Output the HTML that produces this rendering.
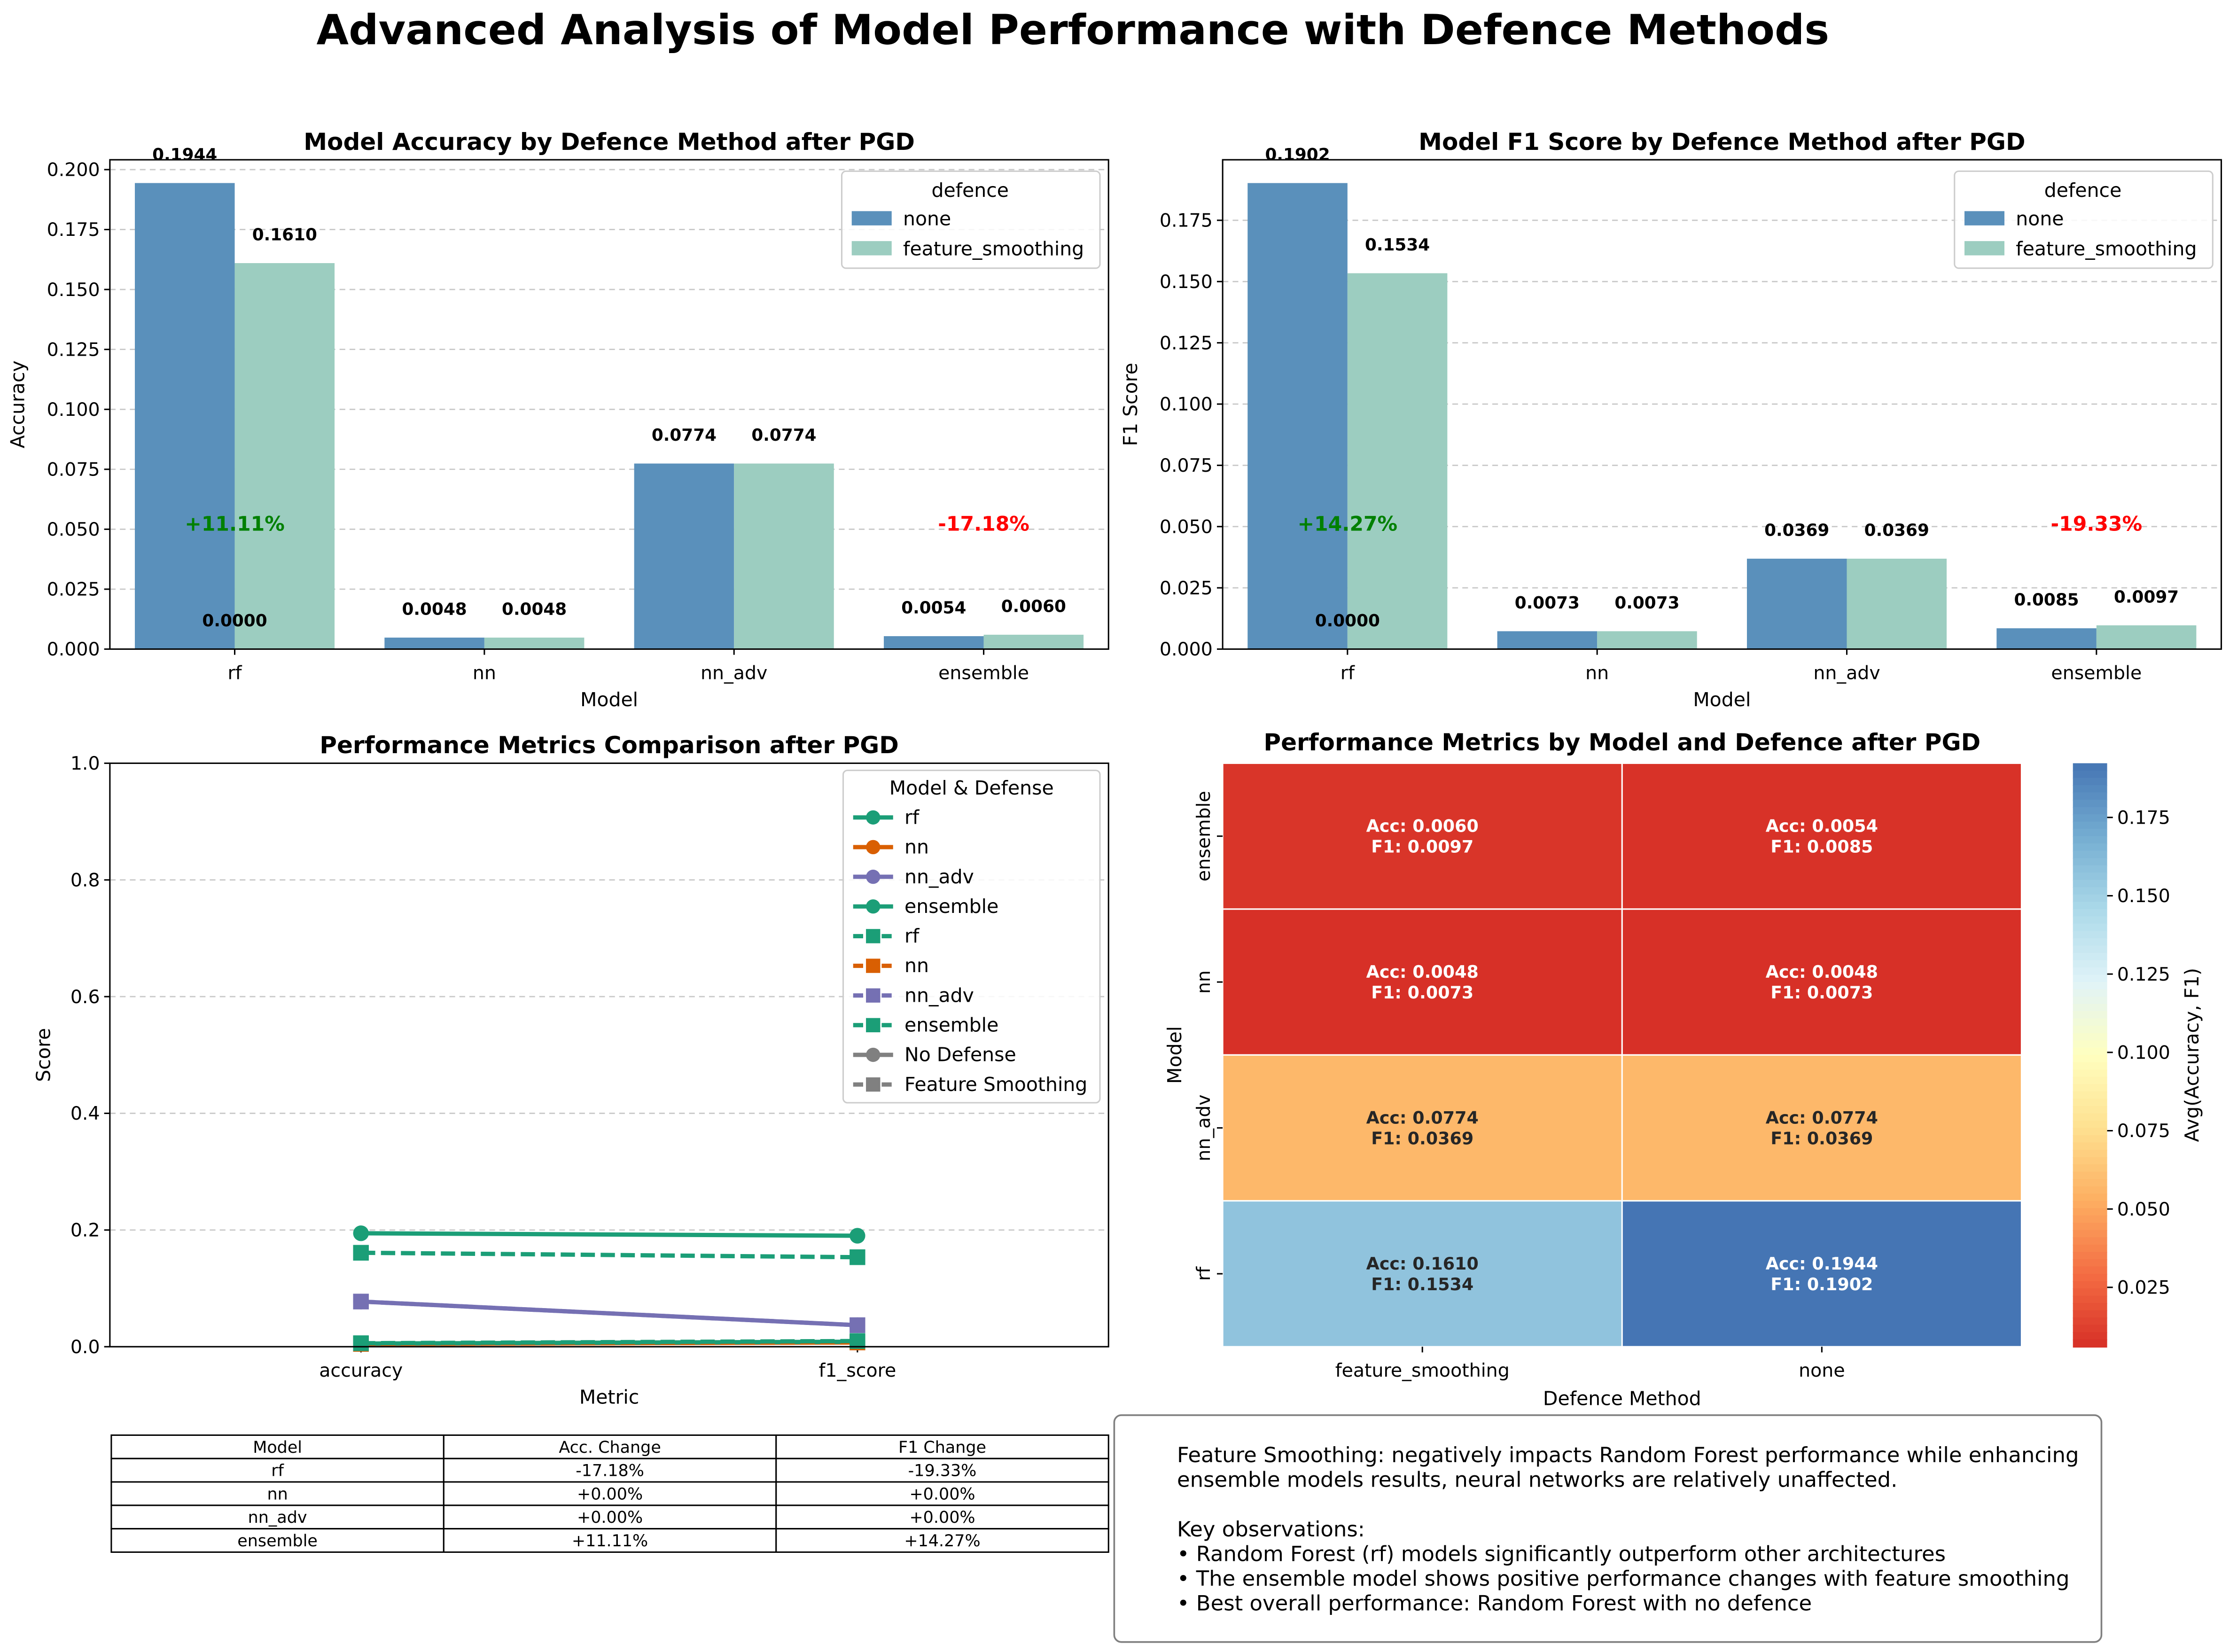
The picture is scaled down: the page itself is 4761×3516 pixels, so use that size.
<!DOCTYPE html>
<html><head><meta charset="utf-8"><style>
html,body{margin:0;padding:0;background:#fff;}
svg{display:block;font-family:"DejaVu Sans","Liberation Sans",sans-serif;}
</style></head><body>
<svg id="fig" width="4761" height="3516" viewBox="0 0 1568 1158" xmlns="http://www.w3.org/2000/svg">
<rect width="1568" height="1158" fill="#fff"/>
<text x="752" y="31" text-anchor="middle" font-size="29.2" font-weight="bold">Advanced Analysis of Model Performance with Defence Methods</text>
</svg>
<script>
const models=["rf","nn","nn_adv","ensemble"];
const accNone=[0.1944,0.0048,0.0774,0.0054];
const accFS=[0.1610,0.0048,0.0774,0.0060];
const f1None=[0.1902,0.0073,0.0369,0.0085];
const f1FS=[0.1534,0.0073,0.0369,0.0097];
const accTicks=[0,0.025,0.05,0.075,0.1,0.125,0.15,0.175,0.2];
const f1Ticks=[0,0.025,0.05,0.075,0.1,0.125,0.15,0.175];
const scoreTicks=[0,0.2,0.4,0.6,0.8,1.0];
const metrics=["accuracy","f1_score"];
const accChange=["-17.18%","+0.00%","+0.00%","+11.11%"];
const f1Change=["-19.33%","+0.00%","+0.00%","+14.27%"];
const cbTicks=[0.025,0.05,0.075,0.1,0.125,0.15,0.175];
const NS="http://www.w3.org/2000/svg";
const svg=document.getElementById('fig');
function mk(tag,a,parent,txt){const e=document.createElementNS(NS,tag);for(const k in a)e.setAttribute(k,a[k]);if(txt!==undefined)e.textContent=txt;(parent||svg).appendChild(e);return e;}
const cNone="#5a90bb",cFS="#9ccdc0";
const TF=13, LF=13.5, TT=16.5, LG=13.5;

function barChart(x0,x1,yTop,yBot,vmax,ticks,none,fs,title,ylab,ann){
  const g=mk('g',{});
  
  
  const ys=v=>yBot-(v/vmax)*(yBot-yTop);
  const band=(x1-x0)/4;
  const xc=i=>x0+band*(i+0.5);
  ticks.forEach(t=>{
    if(t>0){const gl=mk('line',{x1:x0,x2:x1,y1:ys(t),y2:ys(t),stroke:'#c8c8c8','stroke-dasharray':'4,3','stroke-width':0.9},g);
    
    }
    mk('line',{x1:x0-4,x2:x0,y1:ys(t),y2:ys(t),stroke:'#000'},g);
    const tl=mk('text',{x:x0-7,y:ys(t)+4.5,'text-anchor':'end','font-size':TF},g,t.toFixed(3));
    
    
  });
  const bw=band*0.4;
  models.forEach((m,i)=>{
    [[none[i],cNone,-1],[fs[i],cFS,0]].forEach(([v,c,off],k)=>{
      const bx=xc(i)+off*bw;
      const b=mk('rect',{x:bx,y:ys(v),width:bw,height:yBot-ys(v),fill:c},g);
      
      
      const vl=mk('text',{x:bx+bw/2,y:ys(v)-16,'text-anchor':'middle','font-size':11.8,'font-weight':'bold'},g,v.toFixed(4));
      
      
    });
    mk('line',{x1:xc(i),x2:xc(i),y1:yBot,y2:yBot+4,stroke:'#000'},g);
    const xl=mk('text',{x:xc(i),y:yBot+21,'text-anchor':'middle','font-size':TF},g,m);
    
    
  });
  const z=mk('text',{x:xc(0),y:yBot-16,'text-anchor':'middle','font-size':11.8,'font-weight':'bold'},g,'0.0000');
  
  
  const a1=mk('text',{x:xc(0),y:yBot-83,'text-anchor':'middle','font-size':14,'font-weight':'bold',fill:'green'},g,ann[0]);
  
  
  const a2=mk('text',{x:xc(3),y:yBot-83,'text-anchor':'middle','font-size':14,'font-weight':'bold',fill:'red'},g,ann[1]);
  
  
  const fr=mk('rect',{x:x0,y:yTop,width:x1-x0,height:yBot-yTop,fill:'none',stroke:'#000','stroke-width':1},g);
  
  
  const t=mk('text',{x:(x0+x1)/2,y:yTop-7,'text-anchor':'middle','font-size':TT,'font-weight':'bold'},g,title);
  
  
  const xt=mk('text',{x:(x0+x1)/2,y:yBot+40,'text-anchor':'middle','font-size':LF},g,'Model');
  
  
  const yt=mk('text',{x:0,y:0,'text-anchor':'middle','font-size':LF,transform:`translate(${x0-60},${(yTop+yBot)/2}) rotate(-90)`},g,ylab);
  
  
  const lx=x1-187,ly=yTop+8;
  const lb=mk('rect',{x:lx,y:ly,width:181,height:68,rx:3,fill:'#fff','fill-opacity':0.85,stroke:'#ccc'},g);
  
  
  mk('text',{x:lx+90,y:ly+18,'text-anchor':'middle','font-size':LG},g,'defence');
  [['none',cNone],['feature_smoothing',cFS]].forEach(([n,c],k)=>{
    const sw=mk('rect',{x:lx+7,y:ly+28+k*21,width:28,height:10,fill:c},g);
    
    
    const lt=mk('text',{x:lx+43,y:ly+38+k*21,'font-size':LG},g,n);
    
    
  });
}
barChart(77,777,112,455,0.2041,accTicks,accNone,accFS,'Model Accuracy by Defence Method after PGD','Accuracy',['+11.11%','-17.18%']);
barChart(857,1557,112,455,0.1997,f1Ticks,f1None,f1FS,'Model F1 Score by Defence Method after PGD','F1 Score',['+14.27%','-19.33%']);

(function(){
  const x0=77,x1=777,yTop=535,yBot=944;
  const ys=v=>yBot-v*(yBot-yTop);
  const xs=[253,601];
  const g=mk('g',{});
  
  
  scoreTicks.forEach(t=>{
    if(t>0&&t<1){const gl=mk('line',{x1:x0,x2:x1,y1:ys(t),y2:ys(t),stroke:'#c8c8c8','stroke-dasharray':'4,3','stroke-width':0.9},g);
    
    }
    mk('line',{x1:x0-4,x2:x0,y1:ys(t),y2:ys(t),stroke:'#000'},g);
    const tl=mk('text',{x:x0-7,y:ys(t)+4.5,'text-anchor':'end','font-size':TF},g,t.toFixed(1));
    
    
  });
  metrics.forEach((m,i)=>{
    mk('line',{x1:xs[i],x2:xs[i],y1:yBot,y2:yBot+4,stroke:'#000'},g);
    const xl=mk('text',{x:xs[i],y:yBot+21,'text-anchor':'middle','font-size':TF},g,m);
    
    
  });
  const cols=['#1b9e77','#d95f02','#7570b3','#1b9e77'];
  const series=[[accNone,f1None,false],[accFS,f1FS,true]];
  series.forEach(([a,f,dash])=>{
    models.forEach((m,i)=>{
      const vals=[a[i],f[i]];
      const l=mk('polyline',{points:vals.map((v,k)=>xs[k]+','+ys(v)).join(' '),fill:'none',stroke:cols[i],'stroke-width':3,'stroke-dasharray':dash?'10,4':'none'},g);
      
      
      vals.forEach((v,k)=>{
        const p=dash?mk('rect',{x:xs[k]-5.5,y:ys(v)-5.5,width:11,height:11,fill:cols[i]},g):mk('circle',{cx:xs[k],cy:ys(v),r:5.5,fill:cols[i]},g);
        
        
      });
    });
  });
  const fr=mk('rect',{x:x0,y:yTop,width:x1-x0,height:yBot-yTop,fill:'none',stroke:'#000'},g);
  
  
  const t=mk('text',{x:(x0+x1)/2,y:yTop-7,'text-anchor':'middle','font-size':TT,'font-weight':'bold'},g,'Performance Metrics Comparison after PGD');
  
  
  const xt=mk('text',{x:(x0+x1)/2,y:yBot+40,'text-anchor':'middle','font-size':LF},g,'Metric');
  
  
  const yt=mk('text',{x:0,y:0,'text-anchor':'middle','font-size':LF,transform:`translate(${x0-42},${(yTop+yBot)/2}) rotate(-90)`},g,'Score');
  
  
  const lx=591,ly=540;
  const lb=mk('rect',{x:lx,y:ly,width:180,height:233,rx:3,fill:'#fff','fill-opacity':0.85,stroke:'#ccc'},g);
  
  
  mk('text',{x:lx+90,y:ly+17,'text-anchor':'middle','font-size':LG},g,'Model & Defense');
  const entries=[];
  models.forEach((m,i)=>entries.push([m,cols[i],false,false]));
  models.forEach((m,i)=>entries.push([m,cols[i],true,true]));
  entries.push(['No Defense','#808080',false,false]);
  entries.push(['Feature Smoothing','#808080',true,true]);
  entries.forEach(([n,c,dash,sq],k)=>{
    const y=ly+33+k*20.8;
    mk('line',{x1:lx+7,x2:lx+35,y1:y,y2:y,stroke:c,'stroke-width':3,'stroke-dasharray':dash?'7,3':'none'},g);
    if(sq) mk('rect',{x:lx+16,y:y-5,width:10,height:10,fill:c},g); else mk('circle',{cx:lx+21,cy:y,r:5,fill:c},g);
    const lt=mk('text',{x:lx+43,y:y+4.5,'font-size':LG},g,n);
    
    
  });
})();

(function(){
  const x0=857,x1=1417,yTop=535,yBot=944;
  const rowsOrder=["ensemble","nn","nn_adv","rf"];
  const colsOrder=["feature_smoothing","none"];
  const stops=[[0,[215,48,39]],[0.125,[244,109,67]],[0.25,[253,174,97]],[0.375,[254,224,144]],[0.5,[255,255,191]],[0.625,[224,243,248]],[0.75,[171,217,233]],[0.875,[116,173,209]],[1,[69,117,180]]];
  function cmap(t){t=Math.max(0,Math.min(1,t));for(let i=1;i<stops.length;i++){if(t<=stops[i][0]){const [a,ca]=stops[i-1],[b,cb]=stops[i];const f=(t-a)/(b-a);return 'rgb('+ca.map((v,k)=>Math.round(v+(cb[k]-v)*f)).join(',')+')';}}}
  const avgs=[];models.forEach((m,i)=>{avgs.push((accFS[i]+f1FS[i])/2,(accNone[i]+f1None[i])/2);});
  const vmin=Math.min(...avgs),vmax=Math.max(...avgs);
  const g=mk('g',{});
  
  
  const cw=(x1-x0)/2,ch=(yBot-yTop)/4;
  rowsOrder.forEach((m,r)=>{
    const i=models.indexOf(m);
    colsOrder.forEach((d,c)=>{
      const acc=d==='none'?accNone[i]:accFS[i],f1=d==='none'?f1None[i]:f1FS[i];
      const t=((acc+f1)/2-vmin)/(vmax-vmin);
      const cell=mk('rect',{x:x0+c*cw,y:yTop+r*ch,width:cw,height:ch,fill:cmap(t),stroke:'#fff','stroke-width':1},g);
      
      
      const tc=(t<0.2||t>0.9)?'#fff':'#262626';
      const tx=mk('text',{x:x0+(c+0.5)*cw,y:yTop+(r+0.5)*ch-3,'text-anchor':'middle','font-size':12,'font-weight':'bold',fill:tc},g,'Acc: '+acc.toFixed(4));
      
      
      mk('text',{x:x0+(c+0.5)*cw,y:yTop+(r+0.5)*ch+11.5,'text-anchor':'middle','font-size':12,'font-weight':'bold',fill:tc},g,'F1: '+f1.toFixed(4));
    });
    mk('line',{x1:x0-4,x2:x0,y1:yTop+(r+0.5)*ch,y2:yTop+(r+0.5)*ch,stroke:'#000'},g);
    const yl=mk('text',{x:0,y:0,'text-anchor':'middle','font-size':TF,transform:`translate(${x0-9},${yTop+(r+0.5)*ch}) rotate(-90)`},g,m);
    
    
  });
  colsOrder.forEach((d,c)=>{
    mk('line',{x1:x0+(c+0.5)*cw,x2:x0+(c+0.5)*cw,y1:yBot,y2:yBot+4,stroke:'#000'},g);
    const xl=mk('text',{x:x0+(c+0.5)*cw,y:yBot+21,'text-anchor':'middle','font-size':TF},g,d);
    
    
  });
  const t=mk('text',{x:(x0+x1)/2,y:yTop-9,'text-anchor':'middle','font-size':TT,'font-weight':'bold'},g,'Performance Metrics by Model and Defence after PGD');
  
  
  const xt=mk('text',{x:(x0+x1)/2,y:yBot+41,'text-anchor':'middle','font-size':LF},g,'Defence Method');
  
  
  const yt=mk('text',{x:0,y:0,'text-anchor':'middle','font-size':LF,transform:`translate(${x0-29},${(yTop+yBot)/2}) rotate(-90)`},g,'Model');
  
  
  const cx=1453,cwid=24,N=80;
  const cby=v=>yBot-(v-vmin)/(vmax-vmin)*(yBot-yTop);
  for(let k=0;k<N;k++){mk('rect',{x:cx,y:yTop+(yBot-yTop)*k/N,width:cwid,height:(yBot-yTop)/N+0.6,fill:cmap(1-(k+0.5)/N)},g);}
  const cbf=mk('rect',{x:cx,y:yTop,width:cwid,height:yBot-yTop,fill:'none',stroke:'none'},g);
  
  
  cbTicks.forEach(v=>{
    mk('line',{x1:cx+cwid,x2:cx+cwid+4,y1:cby(v),y2:cby(v),stroke:'#000'},g);
    const tl=mk('text',{x:cx+cwid+7,y:cby(v)+4.5,'font-size':TF},g,v.toFixed(3));
    
    
  });
  const cl=mk('text',{x:0,y:0,'text-anchor':'middle','font-size':LF,transform:`translate(1541,${(yTop+yBot)/2}) rotate(-90)`},g,'Avg(Accuracy, F1)');
  
  
})();

(function(){
  const xs=[78,311,544,777],y0=1006,rh=16.4;
  const g=mk('g',{});
  
  
  const rows=[["Model","Acc. Change","F1 Change"]];
  models.forEach((m,i)=>rows.push([m,accChange[i],f1Change[i]]));
  rows.forEach((r,ri)=>{
    r.forEach((v,ci)=>{
      mk('rect',{x:xs[ci],y:y0+ri*rh,width:xs[ci+1]-xs[ci],height:rh,fill:'#fff',stroke:'#000','stroke-width':1},g);
      const tc=mk('text',{x:(xs[ci]+xs[ci+1])/2,y:y0+ri*rh+12.3,'text-anchor':'middle','font-size':11.5},g,v);
      
      
    });
  });
})();

(function(){
  const g=mk('g',{});
  
  
  mk('rect',{x:781,y:992,width:692,height:159,rx:5,fill:'#fff',stroke:'#808080','stroke-width':1.2},g);
  const lines=["Feature Smoothing: negatively impacts Random Forest performance while enhancing","ensemble models results, neural networks are relatively unaffected.","","Key observations:","• Random Forest (rf) models significantly outperform other architectures","• The ensemble model shows positive performance changes with feature smoothing","• Best overall performance: Random Forest with no defence"];
  lines.forEach((l,k)=>{
    if(!l) return;
    const t=mk('text',{x:825,y:1025+k*17.3,'font-size':14.8},g,l);
    
    
  });
})();
</script>
</body></html>
